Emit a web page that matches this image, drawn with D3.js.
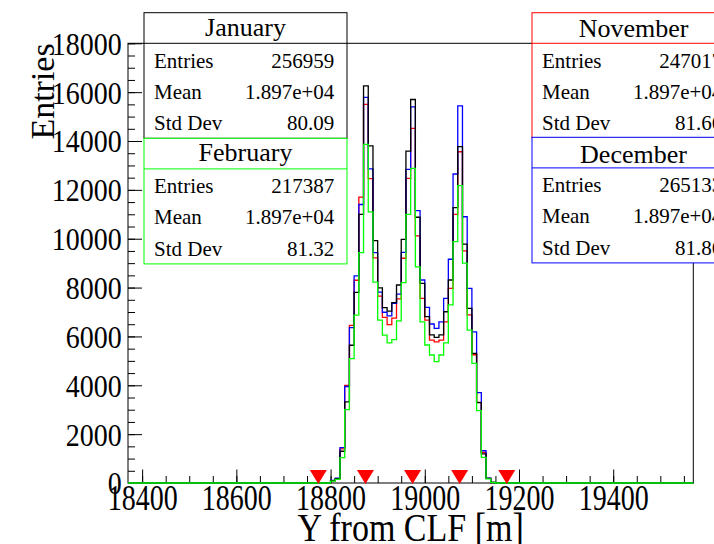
<!DOCTYPE html>
<html lang="en">
<head>
  <meta charset="UTF-8">
  <title>Y from CLF</title>
  <script src="https://d3js.org/d3.v7.min.js"></script>
  <style>
    body { margin: 0; background: #fff; }
    svg { display: block; font-family: "Liberation Serif", "Times New Roman", serif; }
  </style>
</head>
<body>
  <div id="chart"></div>

  <script>
    // histogram bins: 10 m wide, first bin starts at 18800
    const binStart = 18800;
    const binWidth = 10;
    const janCounts = [100, 180, 1300, 3320, 5640, 7800, 11000, 16260, 13800, 9920, 7990, 7180, 7040, 7380, 8105, 9975, 13590, 15700, 10880, 8170, 6810, 6060, 5960, 6060, 7010, 8310, 11270, 13770, 9780, 7150, 5310, 3290, 1190, 190, 20];
    const febCounts = [80, 150, 1040, 3000, 5090, 6870, 9430, 13860, 11100, 8220, 6670, 6050, 5740, 5870, 6640, 8200, 11000, 12880, 8850, 6600, 5650, 5240, 4970, 5240, 5740, 7290, 9880, 12170, 9000, 6260, 4900, 2960, 1050, 170, 20];
    const novCounts = [100, 180, 1400, 4000, 6450, 8300, 11700, 15500, 12460, 9220, 7650, 6780, 6480, 6750, 7540, 9200, 12470, 14520, 10120, 7560, 6670, 5850, 5780, 5850, 6600, 7970, 11000, 13560, 9500, 6880, 5250, 3300, 1250, 190, 20];
    const decCounts = [110, 200, 1445, 3950, 6360, 8480, 11400, 15790, 12860, 9430, 7810, 6990, 6840, 7350, 7730, 9440, 12840, 15400, 11150, 8310, 7190, 6510, 6330, 6600, 7560, 9160, 12650, 15440, 10900, 7970, 6190, 3700, 1320, 200, 20];

    const months = ['January', 'February', 'November', 'December'];
    const entries = ['256959', '217387', '247017', '265133'];
    const means = ['1.897e+04', '1.897e+04', '1.897e+04', '1.897e+04'];
    const stdDevs = ['80.09', '81.32', '81.66', '81.86'];

    // red markers along the bottom axis
    const markerPos = [18774, 18874, 18974, 19074, 19174];

    const xDomain = [18370, 19570];
    const yDomain = [0, 18000];
    const xMajor = [18400, 18600, 18800, 19000, 19200, 19400];

    const W = 714, H = 544;
    const padL = 128, padR = 693.3, padT = 43.3, padB = 483;

    const svg = d3.select('#chart').append('svg')
      .attr('width', W)
      .attr('height', H);

    svg.append('rect').attr('width', W).attr('height', H).attr('fill', '#fff');

    const x = d3.scaleLinear().domain(xDomain).range([padL, padR]);
    const y = d3.scaleLinear().domain(yDomain).range([padB, padT]);

    // frame
    svg.append('rect')
      .attr('x', padL).attr('y', padT)
      .attr('width', padR - padL).attr('height', padB - padT)
      .attr('fill', 'none').attr('stroke', '#000').attr('stroke-width', 1);

    // x axis: minor then major ticks, drawn inward
    const xMinor = svg.append('g').attr('transform', `translate(0,${padB})`)
      .call(d3.axisBottom(x).tickValues(d3.range(18400, 19570, 50)).tickSize(-7).tickFormat(''));
    const xAxis = svg.append('g').attr('transform', `translate(0,${padB})`)
      .call(d3.axisBottom(x).tickValues(xMajor).tickSize(-13.5).tickFormat(d3.format('d')));

    const yMinor = svg.append('g').attr('transform', `translate(${padL},0)`)
      .call(d3.axisLeft(y).tickValues(d3.range(0, 18001, 500)).tickSize(-7).tickFormat(''));
    const yAxis = svg.append('g').attr('transform', `translate(${padL},0)`)
      .call(d3.axisLeft(y).tickValues(d3.range(0, 18001, 2000)).tickSize(-14).tickFormat(d3.format('d')));

    [xMinor, xAxis, yMinor, yAxis].forEach(g => {
      g.select('.domain').remove();
      g.selectAll('line').attr('stroke', '#000');
    });

    xAxis.selectAll('text')
      .attr('y', 0).attr('dy', null)
      .attr('transform', 'translate(0,27) scale(1,1.3)')
      .attr('fill', '#000')
      .style('font-size', '28px')
      .style('font-family', '"Liberation Serif", serif');

    yAxis.selectAll('text')
      .attr('x', 0).attr('dy', null)
      .attr('transform', 'translate(-6.3,10.9) scale(1,1.15)')
      .attr('fill', '#000')
      .style('font-size', '28px')
      .style('font-family', '"Liberation Serif", serif');

    // axis titles
    svg.append('text')
      .attr('transform', `translate(${(padL + padR) / 2},541) scale(1,1.2)`)
      .attr('text-anchor', 'middle')
      .style('font-size', '34px')
      .text('Y from CLF [m]');

    svg.append('text')
      .attr('transform', `translate(54,${padT}) rotate(-90)`)
      .attr('text-anchor', 'end')
      .style('font-size', '34px')
      .text('Entries');

    // step histograms
    const step = d3.line()
      .x(d => x(d[0]))
      .y(d => y(d[1]))
      .curve(d3.curveStepAfter);

    function histPoints(counts) {
      const pts = [[xDomain[0], 0]];
      counts.forEach((c, i) => pts.push([binStart + i * binWidth, c]));
      pts.push([binStart + counts.length * binWidth, 0]);
      pts.push([xDomain[1], 0]);
      return pts;
    }

    const series = [
      { counts: novCounts, color: '#ff0000' },
      { counts: decCounts, color: '#0000ff' },
      { counts: janCounts, color: '#000000' },
      { counts: febCounts, color: '#00ff00' }
    ];

    svg.append('g').selectAll('path')
      .data(series)
      .enter()
      .append('path')
      .attr('d', d => step(histPoints(d.counts)))
      .attr('fill', 'none')
      .attr('stroke', d => d.color)
      .attr('stroke-width', 1.3);

    // markers
    svg.append('g').selectAll('path')
      .data(markerPos)
      .enter()
      .append('path')
      .attr('transform', d => `translate(${x(d)},${padB})`)
      .attr('d', 'M-8.5,-13L8.5,-13L0,1Z')
      .attr('fill', '#ff0000');

    // stat boxes
    const boxes = [
      { i: 0, bx: 144, by: 12.7, color: '#000000', ty: 23 },
      { i: 1, bx: 144, by: 138.3, color: '#00ff00', ty: 22.5 },
      { i: 2, bx: 532, by: 12.7, color: '#ff0000', ty: 24.5 },
      { i: 3, bx: 532, by: 137.3, color: '#0000ff', ty: 25.5 }
    ];
    const boxW = 203, titleH = 30.6, bodyH = 95;

    boxes.forEach(b => {
      const g = svg.append('g').attr('transform', `translate(${b.bx},${b.by})`);
      g.append('rect')
        .attr('width', boxW).attr('height', titleH + bodyH)
        .attr('fill', '#fff').attr('stroke', b.color).attr('stroke-width', 1);
      g.append('line')
        .attr('x1', 0).attr('x2', boxW)
        .attr('y1', titleH).attr('y2', titleH)
        .attr('stroke', b.color).attr('stroke-width', 1);
      g.append('text')
        .attr('x', boxW / 2).attr('y', b.ty)
        .attr('text-anchor', 'middle')
        .style('font-size', '26px')
        .text(months[b.i]);
      const rows = [['Entries', entries[b.i]], ['Mean', means[b.i]], ['Std Dev', stdDevs[b.i]]];
      rows.forEach((r, k) => {
        const ry = titleH + 24.4 + k * 31.2;
        g.append('text').attr('x', 10).attr('y', ry)
          .style('font-size', '21px').text(r[0]);
        g.append('text').attr('x', 190.3).attr('y', ry)
          .attr('text-anchor', 'end')
          .style('font-size', '21px').text(r[1]);
      });
    });
  </script>
</body>
</html>
